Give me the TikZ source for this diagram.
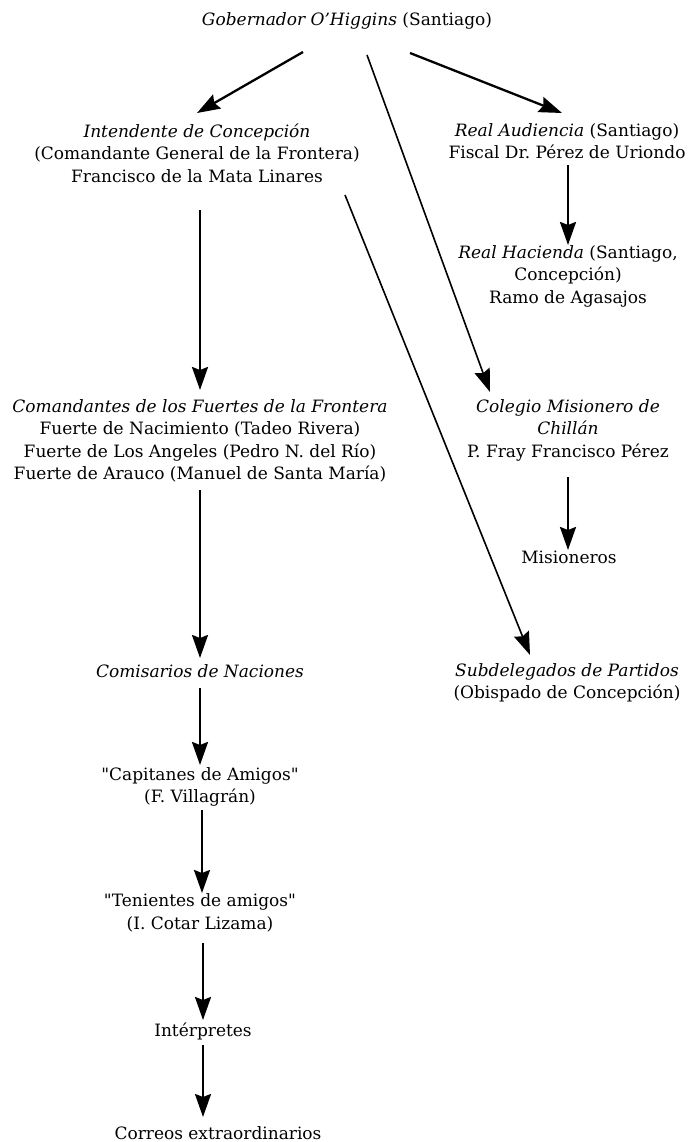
\documentclass[tikz,border=0pt]{standalone}
\usepackage{fontspec}
\setmainfont{DejaVu Serif}
\newfontfamily\dvs{DejaVu Serif}
\usetikzlibrary{arrows.meta,calc}
\tikzset{
  lbl/.style={align=center, inner sep=0pt, font=\dvs\fontsize{17}{22.5}\selectfont},
  arr/.style={line width=2.3pt, -{Stealth[length=23pt,width=16pt,inset=3pt]}},
  darr/.style={line width=1.6pt, -{Stealth[length=23pt,width=16pt,inset=3pt]}}
}
\begin{document}
\begin{tikzpicture}[x=1pt,y=-1pt]
\useasboundingbox (0,0) rectangle (697,1142);
\node[lbl] (gov) at (347,21) {\textit{Gobernador O’Higgins} (Santiago)};
\node[lbl] (int) at (197,153) {\textit{Intendente de Concepción}\\(Comandante General de la Frontera)\\Francisco de la Mata Linares};
\node[lbl] (ra) at (567,141) {\textit{Real Audiencia} (Santiago)\\Fiscal Dr.\ Pérez de Uriondo};
\node[lbl] (rh) at (568,276) {\textit{Real Hacienda} (Santiago,\\Concepción)\\Ramo de Agasajos};
\node[lbl] (col) at (568,430) {\textit{Colegio Misionero de}\\\textit{Chillán}\\P. Fray Francisco Pérez};
\node[lbl] (mis) at (569,557) {Misioneros};
\node[lbl] (com) at (200,441) {\textit{Comandantes de los Fuertes de la Frontera}\\Fuerte de Nacimiento (Tadeo Rivera)\\Fuerte de Los Angeles (Pedro N. del Río)\\Fuerte de Arauco (Manuel de Santa María)};
\node[lbl] (sub) at (567,683) {\textit{Subdelegados de Partidos}\\(Obispado de Concepción)};
\node[lbl] (cns) at (200,671) {\textit{Comisarios de Naciones}};
\node[lbl] (cap) at (200,787) {"Capitanes de Amigos"\\(F. Villagrán)};
\node[lbl] (ten) at (200,913) {"Tenientes de amigos"\\(I. Cotar Lizama)};
\node[lbl] (intp) at (203,1031) {Intérpretes};
\node[lbl] (cor) at (218,1133) {Correos extraordinarios};

\draw[arr] ($(gov)+(-44,31)$) -- ($(int)+(0,-40)$);
\draw[arr] ($(gov)+(63,32)$) -- ($(ra)+(-5,-28)$);
\draw[darr] ($(gov)+(20,34)$) -- ($(col)+(-78,-38)$);
\draw[darr] ($(int)+(148,42)$) -- ($(sub)+(-37,-28)$);
\draw[arr] ($(int)+(3,57)$) -- ($(com)+(0,-51)$);
\draw[arr] ($(ra)+(1,24)$) -- ($(rh)+(0,-31)$);
\draw[arr] ($(col)+(0,47)$) -- ($(mis)+(-1,-7)$);
\draw[arr] ($(com)+(0,49)$) -- ($(cns)+(0,-13)$);
\draw[arr] ($(cns)+(0,17)$) -- ($(cap)+(0,-22)$);
\draw[arr] ($(cap)+(2,23)$) -- ($(ten)+(2,-20)$);
\draw[arr] ($(ten)+(3,30)$) -- ($(intp)+(0,-11)$);
\draw[arr] ($(intp)+(0,14)$) -- ($(cor)+(-15,-16)$);
\end{tikzpicture}
\end{document}
